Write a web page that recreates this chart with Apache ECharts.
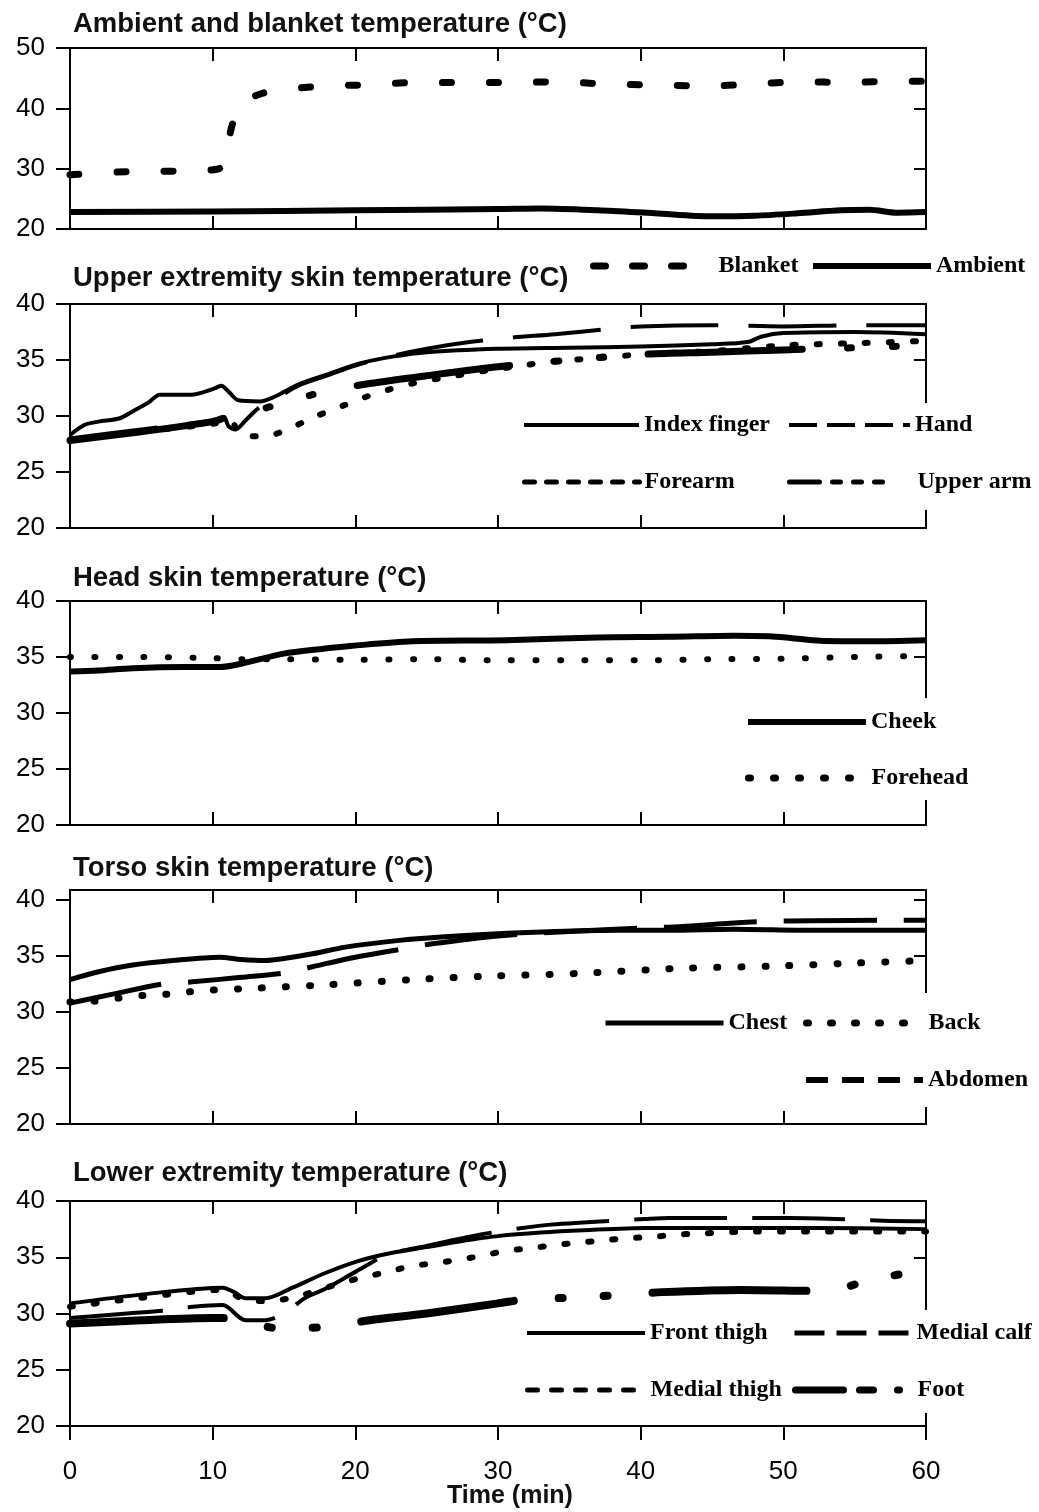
<!DOCTYPE html>
<html>
<head>
<meta charset="utf-8">
<script src="https://cdn.jsdelivr.net/npm/echarts@6/dist/echarts.min.js"></script>
<style>
  html, body { margin: 0; padding: 0; background: #fff; }
  #main { width: 1039px; height: 1512px; }
</style>
</head>
<body>
<div id="main"></div>
<script>
// x values in minutes, y in °C
const xTicks = [0, 10, 20, 30, 40, 50, 60]
const yTicksAmb = [20, 30, 40, 50]
const yTicksSkin = [20, 25, 30, 35, 40]

// panel 1: ambient and blanket
const blanket = [[0, 29.0], [4, 29.5], [7.5, 29.6], [10.3, 29.9], [10.8, 30.8], [11.4, 37.5], [12.2, 41.0], [13.5, 42.5], [15, 43.1], [17.8, 43.7], [21, 43.9], [24.4, 44.3], [28, 44.3], [31, 44.3], [34.3, 44.4], [37.7, 44.0], [41, 43.9], [44.4, 43.7], [47.8, 44.0], [51.2, 44.4], [54.5, 44.3], [58, 44.5], [60, 44.5]]
const ambient = [[0, 22.8], [10, 22.9], [20, 23.1], [30, 23.3], [33, 23.4], [37, 23.1], [41, 22.6], [45, 22.1], [48, 22.2], [51, 22.6], [54, 23.1], [56, 23.2], [58, 22.7], [60, 22.8]]

// panel 2: upper extremity
const indexFinger = [[0, 28.3], [1, 29.2], [2, 29.5], [3.5, 29.8], [4.5, 30.5], [5.5, 31.2], [6.3, 31.9], [8.5, 31.9], [10, 32.4], [10.6, 32.7], [11.1, 32.2], [11.8, 31.4], [13.3, 31.3], [14.3, 31.7], [16, 32.8], [18, 33.7], [20.3, 34.7], [22.6, 35.3], [25, 35.7], [30, 36.0], [35, 36.1], [40, 36.2], [45, 36.4], [47.5, 36.6], [48.5, 37.1], [50, 37.4], [55, 37.5], [60, 37.3]]
const hand = [[0, 28.0], [5, 28.8], [10, 29.6], [10.8, 29.9], [11.1, 29.1], [11.6, 28.8], [12.3, 29.6], [13.3, 30.8], [14.4, 31.5], [16, 32.7], [18, 33.6], [20, 34.5], [22, 35.2], [25, 36.0], [28, 36.6], [31, 37.0], [34, 37.3], [38, 37.8], [40, 38.0], [45, 38.1], [50, 38.0], [55, 38.1], [60, 38.1]]
const forearm = [[0, 27.9], [5, 28.6], [10, 29.3], [11.2, 29.6], [12.1, 28.2], [13.7, 28.2], [15.4, 28.9], [17.1, 29.9], [18.9, 30.8], [20.5, 31.6], [22.2, 32.3], [24, 32.9], [27, 33.6], [30, 34.2], [33.8, 34.85], [37.3, 35.2], [40, 35.5], [45, 35.8], [50, 36.3], [55, 36.5], [60, 36.7]]
const upperArm = [[0, 27.8], [5, 28.6], [10, 29.5], [11, 29.9], [12.5, 30.3], [14.5, 31.0], [17.9, 32.2], [21, 32.9], [25, 33.6], [30, 34.4], [35, 35.0], [40, 35.5], [45, 35.7], [50, 35.9], [55, 36.1], [60, 36.3]]

// panel 3: head
const cheek = [[0, 33.7], [2, 33.8], [4.4, 34.0], [8, 34.1], [10.5, 34.1], [12, 34.4], [15, 35.3], [17.5, 35.7], [19.8, 36.0], [24, 36.4], [30.6, 36.5], [37, 36.75], [42, 36.8], [46.5, 36.9], [49, 36.85], [50.5, 36.7], [52.6, 36.45], [56, 36.4], [60, 36.5]]
const forehead = [[0, 35.0], [5, 35.0], [10, 34.9], [12, 34.8], [15, 34.8], [20, 34.75], [25, 34.8], [30, 34.7], [35, 34.7], [40, 34.7], [45, 34.8], [50, 34.85], [55, 35.0], [60, 35.1]]

// panel 4: torso
const chest = [[0, 32.9], [2, 33.6], [4.4, 34.2], [7.2, 34.6], [10.5, 34.9], [12, 34.7], [13.7, 34.6], [15.1, 34.8], [17, 35.2], [19.3, 35.8], [23.1, 36.4], [26, 36.7], [30, 37.0], [34, 37.2], [38.5, 37.3], [42, 37.3], [46.5, 37.4], [52, 37.3], [60, 37.3]]
const back = [[0, 30.9], [2, 31.0], [3.7, 31.3], [5.3, 31.5], [6.9, 31.6], [9.1, 31.9], [12.4, 32.1], [17.5, 32.4], [24, 32.9], [29.2, 33.2], [35.7, 33.45], [42.7, 33.9], [49.3, 34.1], [54.5, 34.35], [60, 34.6]]
const abdomen = [[0, 30.8], [3, 31.6], [6.5, 32.5], [8.6, 32.7], [12, 33.1], [15.1, 33.5], [17, 34.05], [20, 34.9], [23.6, 35.7], [25.4, 36.1], [30, 36.8], [35, 37.2], [39.9, 37.5], [42.3, 37.6], [46, 37.9], [48.8, 38.1], [52, 38.15], [57.3, 38.2], [60, 38.2]]

// panel 5: lower extremity
const frontThigh = [[0, 30.9], [5.1, 31.7], [10.7, 32.3], [11.5, 31.9], [12.3, 31.35], [13.7, 31.35], [15.6, 32.3], [17.9, 33.6], [20.3, 34.7], [22.6, 35.4], [25, 35.9], [27.3, 36.4], [30.1, 36.9], [33, 37.2], [36, 37.4], [40.4, 37.6], [46, 37.6], [52, 37.6], [60, 37.5]]
const medialCalf = [[0, 29.6], [4, 30.0], [7, 30.3], [8.6, 30.6], [10.7, 30.75], [12.3, 29.4], [13.7, 29.4], [15, 30.0], [16.5, 31.4], [17.9, 32.2], [20, 33.7], [22.2, 35.2], [25, 36.0], [28.7, 37.0], [31.7, 37.6], [33.7, 37.9], [40.3, 38.4], [42, 38.5], [48.6, 38.5], [50.5, 38.5], [57, 38.25], [60, 38.2]]
const medialThigh = [[0, 30.6], [5, 31.4], [10.7, 32.1], [12.3, 31.2], [13.7, 31.1], [15.6, 31.4], [17.2, 32.0], [19, 32.7], [20.5, 33.2], [22.3, 33.7], [23.9, 34.2], [25.7, 34.5], [27.4, 34.8], [29.1, 35.2], [30.7, 35.6], [32.3, 35.8], [34, 36.1], [35.7, 36.3], [37.4, 36.5], [39, 36.7], [40.7, 36.8], [42.4, 37.0], [44, 37.1], [48, 37.3], [60, 37.3]]
const foot = [[0, 29.1], [5, 29.4], [10, 29.6], [12, 29.5], [14.5, 28.7], [17.9, 28.8], [21, 29.4], [25, 30.0], [30, 30.9], [32.2, 31.3], [35.4, 31.4], [38.6, 31.65], [41.5, 31.9], [47, 32.1], [53, 32.0], [55.9, 32.9], [59.1, 33.7], [60, 33.8]]

const panels = [
  { top: 48, height: 181, max: 50, step: 10, ticks: yTicksAmb, title: 'Ambient and blanket temperature (°C)', titleY: 24 },
  { top: 304, height: 224, max: 40, step: 5, ticks: yTicksSkin, title: 'Upper extremity skin temperature (°C)', titleY: 278 },
  { top: 601, height: 224, max: 40, step: 5, ticks: yTicksSkin, title: 'Head skin temperature (°C)', titleY: 578 },
  { top: 890, height: 234, max: 40.9, step: 5, ticks: yTicksSkin, title: 'Torso skin temperature (°C)', titleY: 868 },
  { top: 1201, height: 225, max: 40, step: 5, ticks: yTicksSkin, title: 'Lower extremity temperature (°C)', titleY: 1173 }
]

const BLK = '#000'
const axisLine = { show: true, onZero: false, lineStyle: { color: BLK, width: 2 } }
const sansFont = "'Liberation Sans', Arial, sans-serif"
const serifFont = "'Liberation Serif', 'Times New Roman', serif"

let grid = [], xAxis = [], yAxis = [], title = []
panels.forEach((p, i) => {
  const last = i === panels.length - 1
  grid.push({ left: 70, width: 856, top: p.top, height: p.height, containLabel: false })
  xAxis.push({
    type: 'value', gridIndex: i, position: 'bottom', min: 0, max: 60, interval: 10,
    axisLine: axisLine, splitLine: { show: false },
    axisTick: { show: true, inside: !last, length: last ? 14 : 13, lineStyle: { color: BLK, width: 2 }, customValues: last ? xTicks : xTicks.slice(1, 6) },
    axisLabel: { show: last, margin: 33, fontSize: 26, fontFamily: sansFont, color: BLK, customValues: xTicks }
  })
  xAxis.push({
    type: 'value', gridIndex: i, position: 'top', min: 0, max: 60, interval: 10,
    axisLine: axisLine, splitLine: { show: false },
    axisTick: { show: true, inside: true, length: 13, lineStyle: { color: BLK, width: 2 }, customValues: xTicks.slice(1, 6) },
    axisLabel: { show: false }
  })
  yAxis.push({
    type: 'value', gridIndex: i, position: 'left', min: 20, max: p.max, interval: p.step,
    axisLine: axisLine, splitLine: { show: false },
    axisTick: { show: true, inside: false, length: 14, lineStyle: { color: BLK, width: 2 }, customValues: p.ticks },
    axisLabel: {
      margin: 25, fontSize: 26, fontFamily: sansFont, color: BLK, customValues: p.ticks,
      formatter: v => (p.ticks.indexOf(v) >= 0 ? String(v) : '')
    }
  })
  yAxis.push({
    type: 'value', gridIndex: i, position: 'right', min: 20, max: p.max, interval: p.step,
    axisLine: axisLine, splitLine: { show: false },
    axisTick: { show: true, inside: true, length: 12, lineStyle: { color: BLK, width: 2 }, customValues: p.ticks.slice(1, -1).concat(p.max === 40.9 ? [40] : []) },
    axisLabel: { show: false }
  })
  title.push({
    text: p.title, left: 73, top: p.titleY - 15, padding: 0,
    textStyle: { fontFamily: sansFont, fontWeight: 'bold', fontSize: 27.5, lineHeight: 30, color: '#111' }
  })
})
title.push({
  text: 'Time (min)', left: 447, top: 1481, padding: 0,
  textStyle: { fontFamily: sansFont, fontWeight: 'bold', fontSize: 25, lineHeight: 30, color: '#111' }
})

function line(name, panel, data, width, type, cap, z) {
  return {
    name: name, type: 'line', xAxisIndex: panel * 2, yAxisIndex: panel * 2,
    data: data, symbol: 'none', smooth: 0.3, z: z || 2,
    lineStyle: { color: BLK, width: width, type: type || 'solid', cap: cap || 'butt', join: 'round' }
  }
}

const dashDot = [154, 45, 4, 41, 4, 45]
const series = [
  line('Ambient', 0, ambient, 6),
  line('Blanket', 0, blanket, 7, [9, 38], 'round'),
  line('Index finger', 1, indexFinger, 4),
  line('Hand', 1, hand, 4, [88, 30]),
  line('Forearm', 1, forearm, 6, [3, 21], 'round'),
  line('Upper arm', 1, upperArm, 7, dashDot, 'round'),
  line('Cheek', 2, cheek, 6),
  line('Forehead', 2, forehead, 6, [1, 23.5], 'round'),
  line('Chest', 3, chest, 5),
  line('Back', 3, back, 7, [1, 23], 'round'),
  line('Abdomen', 3, abdomen, 5, [93, 27]),
  line('Front thigh', 4, frontThigh, 4),
  line('Medial calf', 4, medialCalf, 4, [93, 25]),
  line('Medial thigh', 4, medialThigh, 6, [3, 21], 'round'),
  line('Foot', 4, foot, 8, dashDot, 'round')
]

// legend entries: name, sample left, row centre, sample width, sample style, padding [t, r, b, l]
const legendItems = [
  ['Blanket', 590, 266, 120, { width: 7, type: [12, 27, 12, 27, 12, 40], cap: 'round' }, 0],
  ['Ambient', 810, 266, 118, { width: 6, type: 'solid' }, 0],
  ['Index finger', 522, 425, 115, { width: 4, type: 'solid' }, 0],
  ['Hand', 787, 425, 121, { width: 4, type: [28, 10, 28, 10, 28, 10, 10, 30] }, [10, 8, 25, 0]],
  ['Forearm', 522, 482, 115, { width: 5, type: [10, 12], cap: 'round' }, 0],
  ['Upper arm', 787, 482, 123, { width: 5, type: [30, 13, 8, 13, 8, 13, 8, 40] }, [25, 8, 16, 0]],
  ['Cheek', 745, 722, 118, { width: 6, type: 'solid' }, [12, 8, 20, 0]],
  ['Forehead', 745, 778, 118, { width: 7, type: [2, 23], cap: 'round' }, [20, 8, 10, 0]],
  ['Chest', 603, 1023, 118, { width: 5, type: 'solid' }, 0],
  ['Back', 803, 1023, 117, { width: 7, type: [2, 22], cap: 'round' }, [18, 8, 25, 0]],
  ['Abdomen', 803, 1080, 117, { width: 6, type: [22, 14] }, [25, 8, 15, 0]],
  ['Front thigh', 525, 1333, 118, { width: 4, type: 'solid' }, 0],
  ['Medial calf', 792, 1333, 117, { width: 5, type: [30, 12] }, [11, 8, 25, 0]],
  ['Medial thigh', 525, 1390, 118, { width: 5, type: [10, 14] }, 0],
  ['Foot', 792, 1390, 117, { width: 7, type: [48, 16, 14, 24, 2, 40], cap: 'round' }, [25, 8, 11, 0]]
]

const hiddenSymbol = { color: 'rgba(0,0,0,0)', borderColor: 'rgba(0,0,0,0)', borderWidth: 0, opacity: 0 }

const legend = legendItems.map(([name, x, y, w, ls, pad]) => {
  const padArr = pad || [0, 0, 0, 0]
  return {
    selectedMode: false,
    left: x, top: y - 12 - padArr[0], padding: padArr,
    backgroundColor: pad ? '#fff' : 'transparent',
    itemWidth: w, itemHeight: 24,
    data: [{ name: name, lineStyle: Object.assign({ color: BLK }, ls), itemStyle: hiddenSymbol }],
    textStyle: { fontFamily: serifFont, fontWeight: 'bold', fontSize: 24, lineHeight: 24, color: BLK }
  }
})

const chart = echarts.init(document.getElementById('main'))
chart.setOption({
  backgroundColor: '#fff',
  animation: false,
  title: title,
  grid: grid,
  xAxis: xAxis,
  yAxis: yAxis,
  legend: legend,
  series: series
})
</script>
</body>
</html>
